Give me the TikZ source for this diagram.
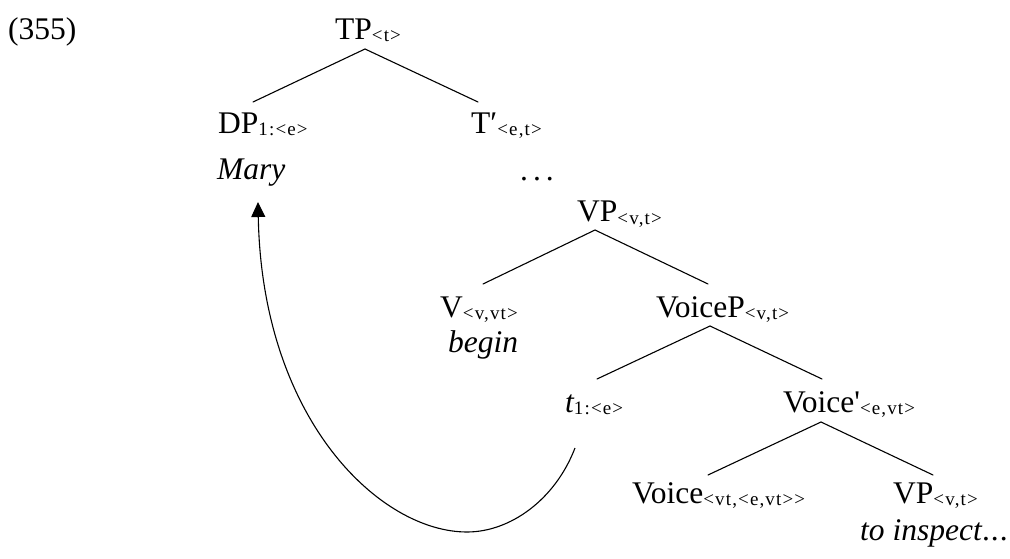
\documentclass[tikz,border=0pt]{standalone}
\usepackage{fontspec}
\setmainfont{Liberation Serif}
\newfontfamily\subfont[LetterSpace=6]{Liberation Serif}
\newfontfamily\plainfont{Liberation Serif}
\usetikzlibrary{calc,arrows.meta}
\newcommand{\sbs}[1]{\raisebox{-2pt}{\fontsize{19}{21}\subfont #1}}
\tikzset{
  lab/.style={inner sep=0pt, anchor=base west, font=\fontsize{31.5}{36}\selectfont},
  edge/.style={line width=1.1pt, line cap=round},
  move/.style={line width=1.1pt, -{Triangle[length=15pt,width=14pt]}}
}
\begin{document}
\begin{tikzpicture}[x=1pt,y=-1pt]
\useasboundingbox (0,0) rectangle (1010,559);
\node[lab] (ex) at (8,40) {(355)};
\node[lab] (tp) at (335,40) {TP\sbs{<t>}};
\node[lab] (dp) at (218,134) {DP\sbs{1:<e>}};
\node[lab] (mary) at (217,179) {\itshape Mary};
\node[lab] (tbar) at (471,134) {T′\sbs{<e,t>}};
\node[lab] (dots) at (520,181) {.\kern5pt.\kern5pt.};
\node[lab] (vp) at (577,222) {VP\sbs{<v,t>}};
\node[lab] (v) at (440,317) {V\sbs{<v,vt>}};
\node[lab] (begin) at (448,352) {\itshape begin};
\node[lab] (voicep) at (656,317) {VoiceP\sbs{<v,t>}};
\node[lab] (tr) at (565,412) {\itshape t\upshape\sbs{1:<e>}};
\node[lab] (voicebar) at (783,412) {Voice{\plainfont '}\sbs{<e,vt>}};
\node[lab] (voice) at (632,503) {Voice\sbs{<vt,<e,vt>>}};
\node[lab] (vp2) at (893,503) {VP\sbs{<v,t>}};
\node[lab] (insp) at (860,540) {\itshape to inspect\kern1pt.\kern1pt.\kern1pt.};

\draw[edge] ($(tp.base west)+(30,9)$) -- ($(dp.base west)+(35,-32)$);
\draw[edge] ($(tp.base west)+(30,9)$) -- ($(tbar.base west)+(7,-32)$);
\draw[edge] ($(vp.base west)+(18,8)$) -- ($(v.base west)+(43,-33)$);
\draw[edge] ($(vp.base west)+(18,8)$) -- ($(voicep.base west)+(52,-33)$);
\draw[edge] ($(voicep.base west)+(54,9)$) -- ($(tr.base west)+(32,-33)$);
\draw[edge] ($(voicep.base west)+(54,9)$) -- ($(voicebar.base west)+(39,-33)$);
\draw[edge] ($(voicebar.base west)+(38,10)$) -- ($(voice.base west)+(76,-28)$);
\draw[edge] ($(voicebar.base west)+(38,10)$) -- ($(vp2.base west)+(40,-28)$);

\coordinate (arcbot) at (467,532);
\draw[move] ($(tr.base west)+(10,36)$) .. controls (555,500) and (510,532) .. (arcbot)
  .. controls (380,532) and (262,420) .. ($(mary.base west)+(41,23)$);
\end{tikzpicture}
\end{document}
